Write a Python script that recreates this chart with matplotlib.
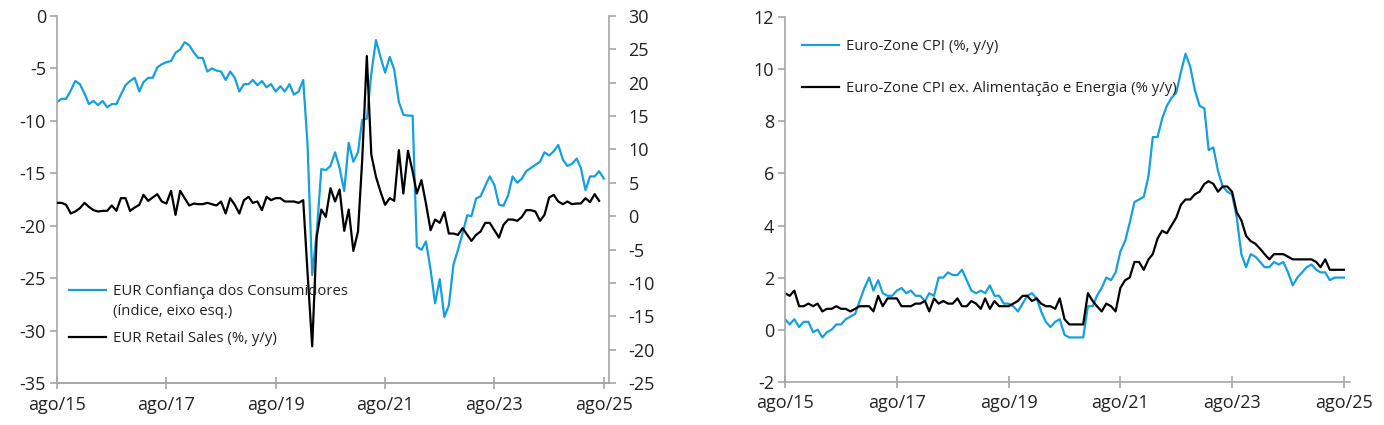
import numpy as np
import pandas as pd
import matplotlib
matplotlib.use('Agg')
import matplotlib.pyplot as plt

plt.rcParams['font.family'] = ['Open Sans', 'DejaVu Sans']
plt.rcParams['axes.unicode_minus'] = False

blue = '#15a0dd'
grey = '#a6a6a6'
txt = '#222222'

# monthly data, ago/15 onwards
months = pd.date_range('2015-08-01', periods=121, freq='MS')
months_rs = months[:120]   # retail sales ends one month earlier

conf_cons = [
    -8.2, -7.9, -7.9, -7.1, -6.2, -6.5, -7.4, -8.4, -8.1, -8.5,
    -8.1, -8.7, -8.4, -8.4, -7.5, -6.6, -6.2, -5.9, -7.2, -6.3,
    -5.9, -5.9, -4.9, -4.6, -4.4, -4.3, -3.5, -3.2, -2.5, -2.8,
    -3.5, -4.0, -4.0, -5.3, -5.0, -5.2, -5.3, -6.1, -5.3, -5.9,
    -7.2, -6.5, -6.5, -6.1, -6.6, -6.2, -6.8, -6.5, -7.2, -6.7,
    -7.2, -6.5, -7.5, -7.2, -6.1,
    -12.3, -24.7, -20.7, -14.6, -14.7, -14.3, -13.0, -14.5, -16.7, -12.1,
    -13.9, -13.0, -9.9, -9.8, -5.5, -2.3, -3.9, -5.4, -3.9, -5.1,
    -8.2, -9.4, -9.5, -9.5,
    -22.0, -22.3, -21.5, -24.2, -27.4, -25.1, -28.7, -27.6, -23.7, -22.3,
    -20.7, -19.0, -19.1, -17.4, -17.2, -16.2, -15.3, -16.1, -18.0, -18.1,
    -17.1, -15.3, -15.9, -15.5, -14.8, -14.5, -14.2, -13.9, -13.0, -13.3,
    -12.9, -12.3, -13.7, -14.3, -14.1, -13.6, -14.5, -16.6, -15.3, -15.3,
    -14.8, -15.5,
]

retail = [
    2.0, 2.0, 1.7, 0.4, 0.7, 1.2, 2.0, 1.4, 0.9, 0.7,
    0.8, 0.8, 1.6, 0.8, 2.7, 2.7, 0.8, 1.3, 1.7, 3.2,
    2.3, 2.8, 3.3, 2.2, 1.9, 3.8, 0.2, 3.8, 2.7, 1.6,
    1.9, 1.8, 1.8, 2.0, 1.8, 1.6, 2.2, 0.4, 2.7, 1.7,
    0.4, 2.4, 2.9, 2.0, 2.2, 0.9, 2.9, 2.4, 2.7,
    2.7, 2.2, 2.2, 2.2, 2.0, 2.4, -8.5, -19.5, -3.1, 1.0,
    -0.1, 4.2, 2.2, 4.0, -2.2, 1.0, -5.2, -2.3, 8.4, 24.0,
    9.2, 5.9, 3.7, 1.7, 2.7, 2.3, 9.9, 3.4, 9.8, 6.7,
    3.4, 5.4, 1.9, -2.1, -0.5, -1.0, 0.6, -2.6, -2.6, -2.8,
    -1.8, -2.8, -3.7, -2.8, -2.3, -1.0, -1.0, -2.1, -3.2, -1.3,
    -0.5, -0.5, -0.7, -0.1, 0.9, 0.9, 0.7, -0.7, 0.2, 2.8,
    3.2, 2.2, 1.8, 2.2, 1.8, 1.9, 1.9, 2.7, 2.1, 3.3,
    2.3,
]

cpi = [
    0.4, 0.2, 0.4, 0.1, 0.3, 0.3, -0.1, 0.0, -0.3, -0.1,
    0.0, 0.2, 0.2, 0.4, 0.5, 0.6, 1.1, 1.6, 2.0, 1.5,
    1.9, 1.4, 1.3, 1.3, 1.5, 1.6, 1.4, 1.5, 1.3, 1.3,
    1.1, 1.4, 1.3, 2.0, 2.0, 2.2, 2.1, 2.1, 2.3, 1.9,
    1.5, 1.4, 1.5, 1.4, 1.7, 1.3, 1.3, 1.0, 1.0, 0.9,
    0.7, 1.0, 1.3, 1.4, 1.2, 0.7, 0.3, 0.1, 0.3, 0.4,
    -0.2, -0.3, -0.3, -0.3, -0.3, 0.9, 0.9, 1.3, 1.6, 2.0,
    1.9, 2.2, 3.0, 3.4, 4.1, 4.9, 5.0, 5.1, 5.9, 7.4,
    7.4, 8.1, 8.6, 8.9, 9.1, 9.9, 10.6, 10.1, 9.2, 8.6,
    8.5, 6.9, 7.0, 6.1, 5.5, 5.3, 5.2, 4.3, 2.9, 2.4,
    2.9, 2.8, 2.6, 2.4, 2.4, 2.6, 2.5, 2.6, 2.2, 1.7,
    2.0, 2.2, 2.4, 2.5, 2.3, 2.2, 2.2, 1.9, 2.0, 2.0,
    2.0,
]

core = [
    1.4, 1.3, 1.5, 0.9, 0.9, 1.0, 0.9, 1.0, 0.7, 0.8,
    0.8, 0.9, 0.8, 0.8, 0.7, 0.8, 0.9, 0.9, 0.9, 0.7,
    1.3, 0.9, 1.2, 1.2, 1.2, 0.9, 0.9, 0.9, 1.0, 1.0,
    1.1, 0.7, 1.2, 1.0, 1.1, 1.0, 1.0, 1.2, 0.9, 0.9,
    1.1, 1.0, 0.8, 1.2, 0.8, 1.1, 0.9, 0.9, 0.9, 1.0,
    1.1, 1.3, 1.3, 1.1, 1.2, 1.0, 0.9, 0.9, 0.8, 1.2,
    0.4, 0.2, 0.2, 0.2, 0.2, 1.4, 1.1, 0.9, 0.7, 1.0,
    0.9, 0.7, 1.6, 1.9, 2.0, 2.6, 2.6, 2.3, 2.7, 2.9,
    3.5, 3.8, 3.7, 4.0, 4.3, 4.8, 5.0, 5.0, 5.2, 5.3,
    5.6, 5.7, 5.6, 5.3, 5.5, 5.5, 5.3, 4.5, 4.2, 3.6,
    3.4, 3.3, 3.1, 2.9, 2.7, 2.9, 2.9, 2.9, 2.8, 2.7,
    2.7, 2.7, 2.7, 2.7, 2.6, 2.4, 2.7, 2.3, 2.3, 2.3,
    2.3,
]

tick_dates = pd.to_datetime(['2015-08-01', '2017-08-01', '2019-08-01',
                             '2021-08-01', '2023-08-01', '2025-08-01'])
tick_labels = ['ago/15', 'ago/17', 'ago/19', 'ago/21', 'ago/23', 'ago/25']

W, H = 1384, 425
fig = plt.figure(figsize=(W/100, H/100), dpi=100)

ax1 = fig.add_axes([57/W, 1-383/H, 552/W, 367/H])
ax2 = ax1.twinx()
ax3 = fig.add_axes([785/W, 1-381.7/H, 565/W, 364.4/H])

def style(ax):
    for s in ['top', 'right', 'left', 'bottom']:
        ax.spines[s].set_color(grey)
        ax.spines[s].set_linewidth(1.2)
    ax.spines['top'].set_visible(False)
    ax.tick_params(axis='y', direction='out', length=5, width=1.2, color=grey,
                   labelsize=13, labelcolor=txt, pad=3)
    ax.tick_params(axis='x', direction='inout', length=8, width=1.2, color=grey,
                   labelsize=13, labelcolor=txt, pad=5)

# left chart
l1, = ax1.plot(months, conf_cons, color=blue, lw=1.6)
l2, = ax2.plot(months_rs, retail, color='black', lw=1.6)
for ax in (ax1, ax2):
    style(ax)
ax1.spines['right'].set_visible(False)
ax2.spines['left'].set_visible(False)
ax1.set_ylim(-35, 0)
ax1.set_yticks(np.arange(-35, 1, 5))
ax2.set_ylim(-25, 30)
ax2.set_yticks(np.arange(-25, 31, 5))
ax2.tick_params(axis='y', pad=9)
for t in ax2.get_yticklabels():
    t.set_horizontalalignment('left')
ax1.set_xlim(pd.Timestamp('2015-08-01'), pd.Timestamp('2025-09-05'))
ax1.set_xticks(tick_dates)
ax1.set_xticklabels(tick_labels)

leg = ax2.legend([l1, l2], ['EUR Confiança dos Consumidores',
                            'EUR Retail Sales (%, y/y)'],
                 loc='upper left', bbox_to_anchor=(0.0217, 0.27), frameon=False,
                 fontsize=10.7, handlelength=2.5, handletextpad=0.45, borderpad=0,
                 borderaxespad=0, labelspacing=2.15, labelcolor=txt)

# second line of the first legend label, placed under the first line
fig.canvas.draw()
bb = leg.get_texts()[0].get_window_extent()
fig.text(bb.x0 / W, (bb.y0 - 5) / H, '(índice, eixo esq.)', fontsize=10.7,
         color=txt, ha='left', va='top')

# right chart
ax3.plot(months, cpi, color=blue, lw=1.6, label='Euro-Zone CPI (%, y/y)')
ax3.plot(months, core, color='black', lw=1.6,
         label='Euro-Zone CPI ex. Alimentação e Energia (% y/y)')
style(ax3)
ax3.spines['right'].set_visible(False)
ax3.set_ylim(-2, 12)
ax3.set_yticks(np.arange(-2, 13, 2))
ax3.set_xlim(pd.Timestamp('2015-08-01'), pd.Timestamp('2025-09-10'))
ax3.set_xticks(tick_dates)
ax3.set_xticklabels(tick_labels)
ax3.legend(loc='upper left', bbox_to_anchor=(0.030, 0.94), frameon=False,
           fontsize=10.7, handlelength=2.5, handletextpad=0.45, borderpad=0,
           borderaxespad=0, labelspacing=1.8, labelcolor=txt)

fig.savefig('out.png', dpi=100)
